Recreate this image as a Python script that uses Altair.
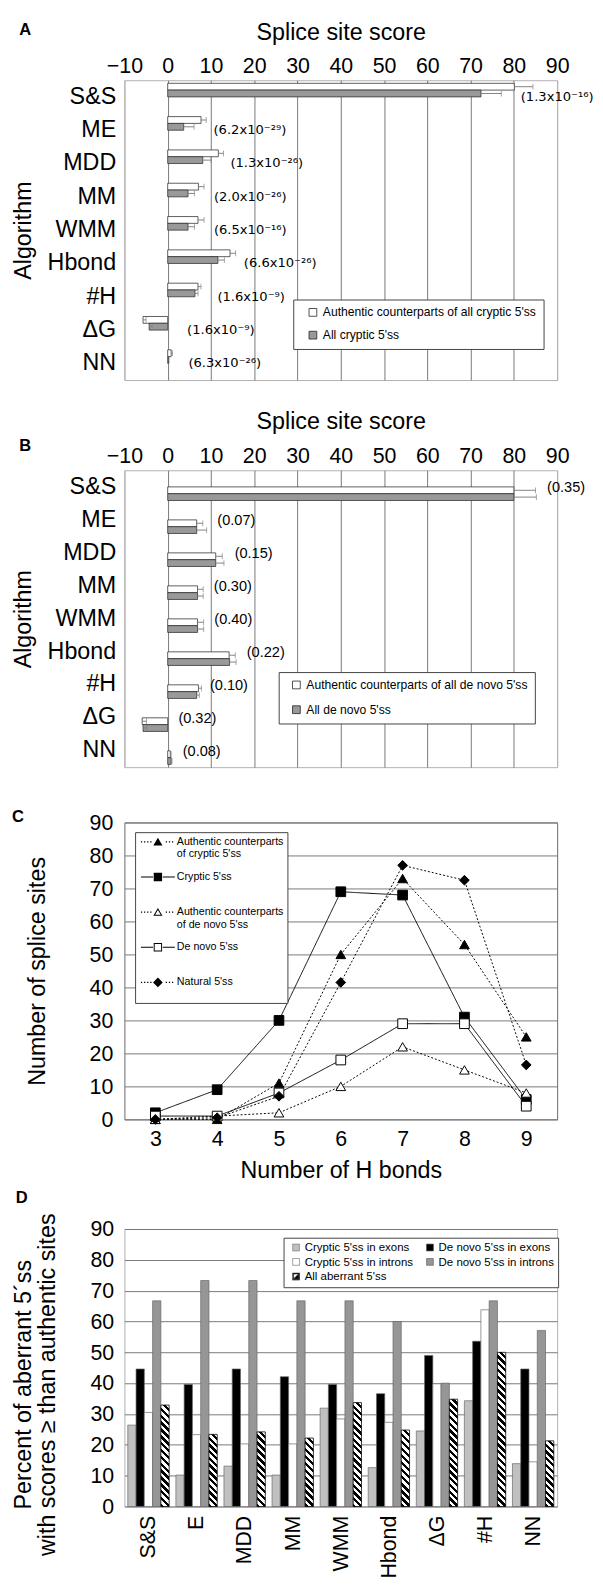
import altair as alt
import pandas as pd

FONT = "Liberation Sans"

# ---------------- Panels A and B: mean splice-site scores ----------------
algorithms = ["S&S", "ME", "MDD", "MM", "WMM", "Hbond", "#H", "ΔG", "NN"]

a_series = ["Authentic counterparts of all cryptic 5'ss", "All cryptic 5'ss"]
a_authentic = [80.1, 7.7, 11.7, 7.1, 7.0, 14.4, 7.0, -5.7, 0.8]
a_authentic_err = [4.3, 1.2, 1.2, 1.3, 1.4, 1.3, 0.7, 0.7, 0.3]
a_cryptic = [72.4, 3.7, 8.1, 4.7, 4.7, 11.6, 6.3, -4.3, 0.2]
a_cryptic_err = [4.7, 2.4, 1.9, 1.5, 1.5, 1.5, 0.7, 0.7, 0.1]
a_pvalues = ["(1.3x10⁻¹⁶)", "(6.2x10⁻²⁹)", "(1.3x10⁻²⁶)", "(2.0x10⁻²⁶)", "(6.5x10⁻¹⁶)",
             "(6.6x10⁻²⁶)", "(1.6x10⁻⁹)", "(1.6x10⁻⁹)", "(6.3x10⁻²⁶)"]

b_series = ["Authentic counterparts of all de novo 5'ss", "All de novo 5'ss"]
b_authentic = [80.0, 6.7, 11.1, 6.9, 6.9, 14.2, 7.1, -5.9, 0.6]
b_authentic_err = [5.0, 1.4, 1.5, 1.3, 1.4, 1.4, 0.7, 1.0, 0.2]
b_denovo = [80.0, 6.7, 11.1, 6.9, 6.9, 14.3, 6.7, -5.7, 0.8]
b_denovo_err = [5.2, 2.3, 1.9, 1.3, 1.4, 1.5, 0.6, 0.9, 0.2]
b_pvalues = ["(0.35)", "(0.07)", "(0.15)", "(0.30)", "(0.40)", "(0.22)", "(0.10)", "(0.32)", "(0.08)"]

# ---------------- Panel C: distribution of H bonds ----------------
h_bonds = [3, 4, 5, 6, 7, 8, 9]
c_series = ["Authentic counterparts of cryptic 5'ss", "Cryptic 5'ss",
            "Authentic counterparts of de novo 5'ss", "De novo 5'ss", "Natural 5'ss"]
c_auth_cryptic = [0.0, 0.0, 11.0, 50.0, 73.0, 53.0, 25.0]
c_cryptic = [2.0, 9.0, 30.0, 69.0, 68.0, 31.0, 6.0]
c_auth_denovo = [0.0, 1.0, 2.0, 10.0, 22.0, 15.0, 8.0]
c_denovo = [1.0, 1.0, 8.0, 18.0, 29.0, 29.0, 4.0]
c_natural = [0.0, 0.5, 7.0, 41.5, 77.0, 72.5, 16.5]

# ---------------- Panel D: percent of aberrant 5'ss scoring >= authentic ----------------
d_groups = ["S&S", "E", "MDD", "MM", "WMM", "Hbond", "ΔG", "#H", "NN"]
d_series = ["Cryptic 5'ss in exons", "De novo 5'ss in exons", "Cryptic 5'ss in introns",
            "De novo 5'ss in introns", "All aberrant 5'ss"]
d_cryptic_exons = [26.4, 10.2, 13.1, 10.2, 31.9, 12.6, 24.5, 34.3, 13.9]
d_denovo_exons = [44.6, 39.6, 44.6, 42.1, 39.6, 36.6, 49.0, 53.6, 44.6]
d_cryptic_introns = [30.5, 23.3, 20.3, 20.3, 28.4, 27.3, 39.8, 63.8, 14.5]
d_denovo_introns = [66.7, 73.3, 73.3, 66.7, 66.7, 60.0, 40.0, 66.7, 57.1]
d_all_aberrant = [32.9, 23.4, 24.2, 22.2, 33.7, 24.8, 34.8, 50.0, 21.3]

# ---------------- layout constants ----------------
PLOT_W = 446
A_H, B_H, C_H, D_H = 309, 306, 306, 286
GRID = "#777777"
FRAME = "#b0b0b0"


def letter_title(txt, dx, dy):
    return alt.Title(txt, orient="none", anchor="start", frame="group", baseline="middle",
                     fontSize=17, fontWeight="bold", font=FONT, color="black", dx=dx, dy=dy)


def score_panel(letter, series, v1, e1, v2, e2, pvals, height, leg, ldx, ldy, pdx, title_y,
                pfont, psize):
    rows = []
    for i, alg in enumerate(algorithms):
        rows.append({"alg": alg, "series": series[0], "value": v1[i], "end": v1[i] + e1[i]})
        rows.append({"alg": alg, "series": series[1], "value": v2[i], "end": v2[i] + e2[i]})
    df = pd.DataFrame(rows)
    lab = pd.DataFrame({"alg": algorithms, "p": pvals,
                        "pos": [max(0.0, v2[i] + e2[i]) for i in range(len(algorithms))]})

    xs = alt.Scale(domain=[-10, 90], nice=False, zero=False)
    ys = alt.Scale(domain=algorithms, paddingInner=0.184, paddingOuter=0.092)
    offs = alt.Scale(domain=series, paddingInner=0, paddingOuter=0)
    grid_col = alt.condition("datum.value == -10 || datum.value == 90",
                             alt.value(FRAME), alt.value(GRID))
    x_axis = alt.Axis(orient="top", values=list(range(-10, 91, 10)), title="Splice site score",
                      grid=True, gridColor=grid_col, ticks=False, tickSize=0, domain=False,
                      labelFlush=False, labelOverlap=False, labelFontSize=22, titleFontSize=24,
                      labelPadding=2.5, titleY=title_y, titleBaseline="middle")
    y_axis = alt.Axis(title="Algorithm", ticks=False, tickSize=0, domain=False, labelFontSize=24,
                      titleFontSize=24, labelPadding=9, titleX=-104, titleBaseline="middle")
    X = alt.X("value:Q", scale=xs, axis=x_axis)
    Y = alt.Y("alg:N", scale=ys, axis=y_axis, sort=algorithms)
    YO = alt.YOffset("series:N", scale=offs, sort=series)
    base = alt.Chart(df)
    bars = base.mark_bar(stroke="#333333", strokeWidth=0.8).encode(
        x=X, y=Y, yOffset=YO,
        fill=alt.Fill("series:N", scale=alt.Scale(domain=series, range=["#ffffff", "#999999"]),
                      legend=alt.Legend(title=None, orient="none", legendX=leg[0], legendY=leg[1],
                                        direction="vertical", strokeColor="#404040",
                                        fillColor="white", padding=7, symbolType="square",
                                        symbolSize=64, symbolStrokeColor="#222222",
                                        symbolStrokeWidth=0.8, symbolOffset=leg[2],
                                        labelFontSize=12.5, labelOffset=4,
                                        rowPadding=leg[3], labelLimit=400)))
    whisk = base.mark_rule(color="#808080", strokeWidth=1).encode(
        x="value:Q", x2="end:Q", y=Y, yOffset=YO)
    caps = base.mark_tick(color="#808080", orient="vertical", size=6, thickness=1).encode(
        x="end:Q", y=Y, yOffset=YO)
    txt = alt.Chart(lab).mark_text(align="left", baseline="middle", dx=pdx, fontSize=psize,
                                   font=pfont, color="black").encode(x="pos:Q", y=Y, text="p:N")
    return alt.layer(bars, whisk, caps, txt).properties(
        width=PLOT_W, height=height, title=letter_title(letter, ldx, ldy),
        view=alt.ViewBackground(stroke=FRAME, strokeWidth=1))


panel_a = score_panel("A", a_series, a_authentic, a_authentic_err, a_cryptic, a_cryptic_err,
                      a_pvalues, A_H, (174, 226, 7, 10.5), -108.5, -52, 20, -49,
                      "DejaVu Sans", 13.5)
panel_b = score_panel("B", b_series, b_authentic, b_authentic_err, b_denovo, b_denovo_err,
                      b_pvalues, B_H, (159, 208, 5, 12.5), -108.4, -25, 11, -50,
                      FONT, 15)

# ---------------- Panel C ----------------
c_values = [c_auth_cryptic, c_cryptic, c_auth_denovo, c_denovo, c_natural]
c_df = pd.DataFrame([{"hb": h, "series": s, "n": c_values[si][hi]}
                     for si, s in enumerate(c_series) for hi, h in enumerate(h_bonds)])

U = 17.5  # half width (px) of a legend symbol in panel C
PX = 1.0 / U


def _rect(x0, y0, x1, y1, ccw=False):
    if ccw:
        return f"M{x0:.3f},{y0:.3f}L{x0:.3f},{y1:.3f}L{x1:.3f},{y1:.3f}L{x1:.3f},{y0:.3f}Z"
    return f"M{x0:.3f},{y0:.3f}L{x1:.3f},{y0:.3f}L{x1:.3f},{y1:.3f}L{x0:.3f},{y1:.3f}Z"


def _poly(pts):
    return "M" + "L".join(f"{x:.3f},{y:.3f}" for x, y in pts) + "Z"


def legend_symbol(style, marker, hollow, sy):
    parts = []
    gap = 5 * PX
    if style == "solid":
        parts.append(_rect(-1, sy - 0.5 * PX, -gap, sy + 0.5 * PX))
        parts.append(_rect(gap, sy - 0.5 * PX, 1, sy + 0.5 * PX))
    else:
        x = -1.0
        while x + 1.3 * PX <= 1.0 + 1e-9:
            if x + 1.3 * PX < -gap or x > gap:
                parts.append(_rect(x, sy - 0.65 * PX, x + 1.3 * PX, sy + 0.65 * PX))
            x += 3.2 * PX
    if marker == "triangle":
        parts.append(_poly([(0, sy - 4.3 * PX), (4.7 * PX, sy + 3.7 * PX), (-4.7 * PX, sy + 3.7 * PX)]))
        if hollow:
            parts.append(_poly([(0, sy - 2.2 * PX), (-2.9 * PX, sy + 2.7 * PX), (2.9 * PX, sy + 2.7 * PX)]))
    elif marker == "square":
        parts.append(_rect(-4.3 * PX, sy - 4.3 * PX, 4.3 * PX, sy + 4.3 * PX))
        if hollow:
            parts.append(_rect(-3.3 * PX, sy - 3.3 * PX, 3.3 * PX, sy + 3.3 * PX, ccw=True))
    else:
        parts.append(_poly([(0, sy - 5.0 * PX), (5.0 * PX, sy), (0, sy + 5.0 * PX), (-5.0 * PX, sy)]))
    return "".join(parts)


SY = 0.0
c_symbol_paths = [
    legend_symbol("dotted", "triangle", False, SY),
    legend_symbol("solid", "square", False, SY),
    legend_symbol("dotted", "triangle", True, SY),
    legend_symbol("solid", "square", True, SY),
    legend_symbol("dotted", "diamond", False, SY),
]

cX = alt.X("hb:Q", scale=alt.Scale(domain=[2.5, 9.5], nice=False, zero=False),
           axis=alt.Axis(values=h_bonds, format="d", title="Number of H bonds", grid=False,
                         ticks=False, tickSize=0, domain=False, labelFontSize=22,
                         titleFontSize=24, labelPadding=9.5, titleY=53, titleBaseline="middle"))
cY = alt.Y("n:Q", scale=alt.Scale(domain=[0, 90], nice=False),
           axis=alt.Axis(values=list(range(0, 91, 10)), title="Number of splice sites", grid=True,
                         gridColor=GRID, ticks=False, tickSize=0, domain=False, labelFontSize=22,
                         titleFontSize=24, labelPadding=12, titleX=-89, titleBaseline="middle"))

c_lines = alt.Chart(c_df).mark_line(color="black", strokeWidth=1).encode(
    x=cX, y=cY, detail="series:N",
    strokeDash=alt.StrokeDash("series:N", scale=alt.Scale(
        domain=c_series, range=[[2, 2], [1, 0], [2, 2], [1, 0], [2, 2]]), legend=None))
c_points = alt.Chart(c_df).mark_point(stroke="black", strokeWidth=1, opacity=1, size=100).encode(
    x=cX, y=cY,
    shape=alt.Shape("series:N", scale=alt.Scale(
        domain=c_series, range=["triangle-up", "square", "triangle-up", "square", "diamond"]),
        legend=None),
    fill=alt.Fill("series:N", scale=alt.Scale(
        domain=c_series, range=["black", "black", "white", "white", "black"]), legend=None))
c_legend = alt.Chart(c_df).transform_filter("false").mark_point(
    filled=True, color="black", opacity=1).encode(
    x=cX, y=cY,
    shape=alt.Shape("series:N", scale=alt.Scale(domain=c_series, range=c_symbol_paths),
                    legend=alt.Legend(
                        title=None, orient="none", legendX=11, legendY=10, direction="vertical",
                        strokeColor="#404040", fillColor="white", padding=3, symbolOffset=3,
                        symbolSize=(2 * U) ** 2, symbolStrokeWidth=0, symbolFillColor="black",
                        clipHeight=14, rowPadding=11.2, labelFontSize=11, labelOffset=2,
                        labelBaseline="middle", labelLimit=300,
                        labelExpr="indexof(datum.label, 'counterparts ') >= 0 ? "
                                  "split(replace(datum.label, 'counterparts ', 'counterparts|'), '|')"
                                  " : [datum.label, '\u00a0']")))
panel_c = alt.layer(c_lines, c_points, c_legend).resolve_scale(shape="independent").properties(
    width=PLOT_W, height=C_H, title=letter_title("C", -116, -5),
    view=alt.ViewBackground(stroke="#666666", strokeWidth=1))

# ---------------- Panel D ----------------
d_values = [d_cryptic_exons, d_denovo_exons, d_cryptic_introns, d_denovo_introns, d_all_aberrant]
d_df = pd.DataFrame([{"group": g, "series": s, "value": d_values[si][gi]}
                     for si, s in enumerate(d_series) for gi, g in enumerate(d_groups)])

P_IN, P_OUT = 0.14, 0.07
step = PLOT_W / (len(d_groups) - P_IN + 2 * P_OUT)
BAR_W = step * (1 - P_IN) / len(d_series)


def hatch(w, h, period=7.0):
    k = (h + w) / (w * w + h * h)
    n = max(1, int(round((h + w) / period)))
    stops = []
    for i in range(n):
        a, m, b = i / n, (i + 0.5) / n, (i + 1) / n
        stops += [{"offset": a, "color": "white"}, {"offset": m, "color": "white"},
                  {"offset": m, "color": "black"}, {"offset": b, "color": "black"}]
    return {"gradient": "linear", "stops": stops, "x1": 1, "y1": 0, "x2": 1 - w * k, "y2": h * k}


dX = alt.X("group:N", sort=d_groups,
           scale=alt.Scale(domain=d_groups, paddingInner=P_IN, paddingOuter=P_OUT),
           axis=alt.Axis(title=None, labelAngle=-90, ticks=False, tickSize=0, domain=False,
                         labelFontSize=22, labelPadding=9))
dXO = alt.XOffset("series:N", sort=d_series,
                  scale=alt.Scale(domain=d_series, paddingInner=0, paddingOuter=0))
dY = alt.Y("value:Q", scale=alt.Scale(domain=[0, 90], nice=False),
           axis=alt.Axis(values=list(range(0, 91, 10)),
                         title=["Percent of aberrant 5´ss", "with scores ≥ than authentic sites"],
                         titleLineHeight=25, grid=True, gridColor=GRID, ticks=False, tickSize=0,
                         domain=False, labelFontSize=22, titleFontSize=24, labelPadding=11,
                         titleX=-104, titleY=160, titleBaseline="middle"))

d_solid = alt.Chart(d_df).transform_filter(
    alt.FieldOneOfPredicate(field="series", oneOf=d_series[:4])).mark_bar(
    stroke="#666666", strokeWidth=0.7).encode(
    x=dX, xOffset=dXO, y=dY,
    fill=alt.Fill("series:N", scale=alt.Scale(
        domain=d_series[:4], range=["#c0c0c0", "#000000", "#ffffff", "#969696"]), legend=None))

d_hatched = []
for gi, g in enumerate(d_groups):
    h_px = d_all_aberrant[gi] / 90.0 * D_H
    d_hatched.append(
        alt.Chart(d_df).transform_filter(
            (alt.datum.series == d_series[4]) & (alt.datum.group == g)).mark_bar(
            fill=hatch(BAR_W, h_px), stroke="black", strokeWidth=0.8).encode(
            x=dX, xOffset=dXO, y=dY))

aberrant_symbol = (_rect(-1, -1, 1, 1) + _rect(-0.72, -0.72, 0.72, 0.72, ccw=True)
                   + _poly([(1, -1), (1, 1), (-1, 1)]))
d_leg_props = dict(title=None, orient="none", legendX=164, legendY=9, columns=2,
                   direction="horizontal",
                   strokeColor="#404040", fillColor="white", padding=4, symbolSize=49,
                   symbolStrokeWidth=0.6, symbolOffset=3,
                   labelFontSize=11.8, labelOffset=3, rowPadding=2, columnPadding=8,
                   labelLimit=300)
d_legend = alt.Chart(d_df).transform_filter("false").mark_point(
    filled=True, opacity=1, strokeWidth=0.6).encode(
    x=dX, y=dY,
    fill=alt.Fill("series:N", scale=alt.Scale(
        domain=d_series, range=["#c0c0c0", "#000000", "#ffffff", "#969696", "#000000"]),
        legend=alt.Legend(**d_leg_props)),
    stroke=alt.Stroke("series:N", scale=alt.Scale(
        domain=d_series, range=["#666666", "#333333", "#666666", "#555555", "#333333"]),
        legend=alt.Legend(**d_leg_props)),
    shape=alt.Shape("series:N", scale=alt.Scale(
        domain=d_series, range=["square", "square", "square", "square", aberrant_symbol]),
        legend=alt.Legend(**d_leg_props)))

panel_d = alt.layer(d_solid, *d_hatched, d_legend).resolve_scale(
    fill="independent", shape="independent", stroke="independent").properties(
    width=PLOT_W, height=D_H, title=letter_title("D", -112, -32),
    view=alt.ViewBackground(stroke=FRAME, strokeWidth=1))


def independent(ch):
    return ch.resolve_scale(fill="independent", shape="independent", stroke="independent",
                            strokeDash="independent").resolve_legend(
        fill="independent", shape="independent", stroke="independent",
        strokeDash="independent")


top = independent(alt.vconcat(panel_a, panel_b, spacing=29))
bottom = independent(alt.vconcat(panel_c, panel_d, spacing=5))
chart = independent(alt.vconcat(top, bottom, spacing=41)).properties(
    padding={"left": 3, "top": -12, "right": 0, "bottom": 0}
).configure(font=FONT).configure_axis(
    labelFont=FONT, titleFont=FONT, labelColor="black", titleColor="black",
    titleFontWeight="normal"
).configure_legend(labelFont=FONT, labelColor="black").configure_title(font=FONT, color="black")

chart.save("out.html", embed_options={"renderer": "svg", "actions": False})
